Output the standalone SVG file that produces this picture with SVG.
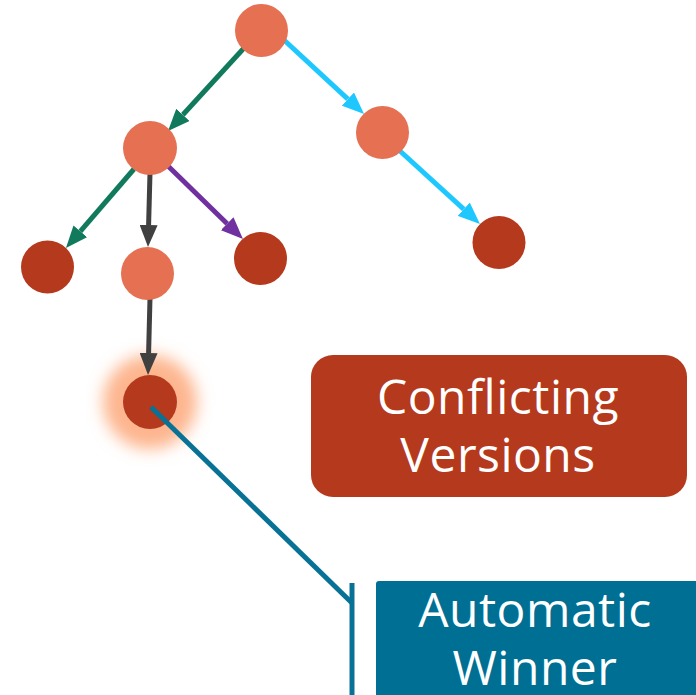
<svg xmlns="http://www.w3.org/2000/svg" width="696" height="695" viewBox="0 0 696 695">
  <defs>
    <style>
      .light { fill: #e57052; }
      .dark { fill: #b5391d; }
      .edge { stroke-width: 5; fill: none; }
      .label { font-family: "Open Sans", "Noto Sans", sans-serif; font-size: 48px; letter-spacing: 0.5px; fill: #ffffff; text-anchor: middle; }
    </style>
    <marker id="ah-green" viewBox="0 0 22 18" refX="0" refY="9" markerWidth="22" markerHeight="18" markerUnits="userSpaceOnUse" orient="auto">
      <path d="M0,0 L22,9 L0,18 Z" fill="#117a5d"/>
    </marker>
    <marker id="ah-cyan" viewBox="0 0 22 18" refX="0" refY="9" markerWidth="22" markerHeight="18" markerUnits="userSpaceOnUse" orient="auto">
      <path d="M0,0 L22,9 L0,18 Z" fill="#1ec8ff"/>
    </marker>
    <marker id="ah-gray" viewBox="0 0 22 18" refX="0" refY="9" markerWidth="22" markerHeight="18" markerUnits="userSpaceOnUse" orient="auto">
      <path d="M0,0 L22,9 L0,18 Z" fill="#404040"/>
    </marker>
    <marker id="ah-purple" viewBox="0 0 22 18" refX="0" refY="9" markerWidth="22" markerHeight="18" markerUnits="userSpaceOnUse" orient="auto">
      <path d="M0,0 L22,9 L0,18 Z" fill="#7030a0"/>
    </marker>
    <filter id="glow" x="-100%" y="-100%" width="300%" height="300%">
      <feGaussianBlur stdDeviation="8"/>
    </filter>
  </defs>

  <!-- soft halo behind the winning version -->
  <g id="winner-halo">
    <circle cx="150" cy="402" r="47" fill="#fdb58e" filter="url(#glow)"/>
  </g>

  <!-- version tree edges -->
  <g id="connectors">
    <line class="edge" x1="244" y1="48" x2="182.9" y2="114.8" stroke="#117a5d" marker-end="url(#ah-green)"/>
    <line class="edge" x1="284" y1="40" x2="347.9" y2="99.1" stroke="#1ec8ff" marker-end="url(#ah-cyan)"/>
    <line class="edge" x1="400" y1="151" x2="463.7" y2="209.2" stroke="#1ec8ff" marker-end="url(#ah-cyan)"/>
    <line class="edge" x1="134" y1="169" x2="80.3" y2="231.3" stroke="#117a5d" marker-end="url(#ah-green)"/>
    <line class="edge" x1="150" y1="173" x2="148.6" y2="225" stroke="#404040" marker-end="url(#ah-gray)"/>
    <line class="edge" x1="168" y1="166" x2="227.2" y2="223.7" stroke="#7030a0" marker-end="url(#ah-purple)"/>
    <line class="edge" x1="150" y1="298" x2="148.6" y2="353" stroke="#404040" marker-end="url(#ah-gray)"/>
  </g>

  <!-- version nodes -->
  <g id="root"><circle class="light" cx="261.5" cy="30.5" r="26.5"/></g>
  <g id="branch-left"><circle class="light" cx="150" cy="148" r="27"/></g>
  <g id="branch-right"><circle class="light" cx="382.5" cy="132.5" r="26.5"/></g>
  <g id="leaf-right"><circle class="dark" cx="499" cy="242.5" r="26.5"/></g>
  <g id="leaf-left"><circle class="dark" cx="47.5" cy="267" r="26.5"/></g>
  <g id="branch-middle"><circle class="light" cx="147.5" cy="273.5" r="26.5"/></g>
  <g id="leaf-purple"><circle class="dark" cx="260.5" cy="258.5" r="26.5"/></g>
  <g id="winner"><circle class="dark" cx="150" cy="402" r="27"/></g>

  <!-- callout from the winning version -->
  <g id="callout">
    <line x1="151" y1="407" x2="352" y2="603" stroke="#077295" stroke-width="5"/>
    <line x1="352" y1="583" x2="352" y2="695" stroke="#077295" stroke-width="5"/>
  </g>

  <g id="conflicting-label">
    <rect x="311" y="355" width="376" height="142" rx="22" fill="#b5391d"/>
    <text class="label" x="498" y="414">Conflicting</text>
    <text class="label" x="498" y="472">Versions</text>
  </g>

  <g id="winner-label">
    <rect x="376" y="581" width="330" height="130" rx="3" fill="#006f94"/>
    <text class="label" x="535" y="627">Automatic</text>
    <text class="label" x="535" y="685">Winner</text>
  </g>
</svg>
